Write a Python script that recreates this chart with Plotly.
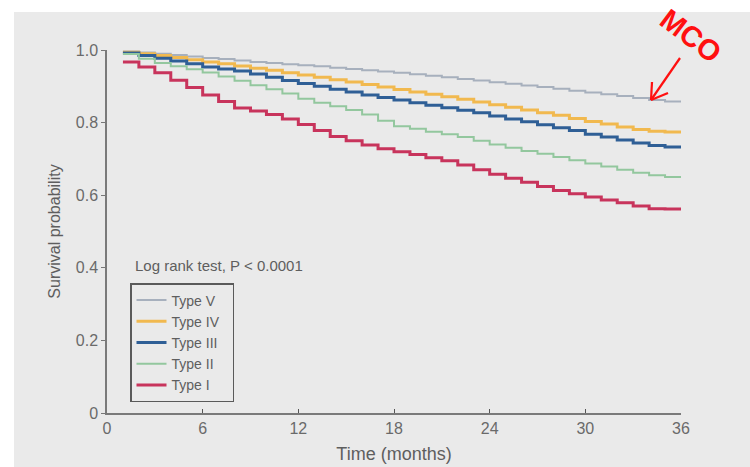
import plotly.graph_objects as go

# Follow-up time (months) at which each step of the Kaplan-Meier curves is drawn
months = list(range(1, 37))

type_v = [0.996, 0.993, 0.990, 0.986, 0.982, 0.978, 0.975, 0.971, 0.967, 0.964,
          0.961, 0.958, 0.955, 0.951, 0.948, 0.944, 0.941, 0.937, 0.933, 0.929,
          0.925, 0.920, 0.916, 0.911, 0.907, 0.902, 0.898, 0.893, 0.888, 0.883,
          0.878, 0.873, 0.868, 0.862, 0.858, 0.857]
type_iv = [0.994, 0.990, 0.985, 0.979, 0.973, 0.967, 0.962, 0.956, 0.950, 0.944,
           0.937, 0.931, 0.925, 0.918, 0.912, 0.905, 0.898, 0.891, 0.884, 0.878,
           0.871, 0.864, 0.857, 0.849, 0.842, 0.835, 0.827, 0.820, 0.811, 0.803,
           0.796, 0.788, 0.781, 0.776, 0.774, 0.774]
type_iii = [0.992, 0.985, 0.977, 0.970, 0.962, 0.953, 0.948, 0.942, 0.934, 0.925,
            0.916, 0.908, 0.900, 0.892, 0.884, 0.876, 0.869, 0.862, 0.855, 0.848,
            0.841, 0.834, 0.827, 0.818, 0.810, 0.802, 0.794, 0.786, 0.778, 0.768,
            0.760, 0.752, 0.744, 0.737, 0.733, 0.733]
type_ii = [0.989, 0.976, 0.964, 0.955, 0.947, 0.938, 0.927, 0.915, 0.903, 0.892,
           0.880, 0.866, 0.855, 0.845, 0.835, 0.822, 0.805, 0.790, 0.783, 0.775,
           0.768, 0.760, 0.750, 0.740, 0.731, 0.722, 0.714, 0.705, 0.696, 0.687,
           0.679, 0.670, 0.662, 0.655, 0.650, 0.650]
type_i = [0.967, 0.953, 0.937, 0.917, 0.897, 0.876, 0.858, 0.840, 0.832, 0.822,
          0.810, 0.795, 0.778, 0.762, 0.750, 0.738, 0.728, 0.720, 0.712, 0.703,
          0.695, 0.683, 0.670, 0.658, 0.647, 0.636, 0.624, 0.613, 0.604, 0.595,
          0.587, 0.579, 0.570, 0.563, 0.562, 0.562]

series = [
    ("Type V", type_v, "#a7b0bd", 2),
    ("Type IV", type_iv, "#f1b94f", 3),
    ("Type III", type_iii, "#2f5f96", 3),
    ("Type II", type_ii, "#93c79e", 2),
    ("Type I", type_i, "#c8345c", 3),
]

x_ticks = [0, 6, 12, 18, 24, 30, 36]
y_ticks = [0, 0.2, 0.4, 0.6, 0.8, 1.0]
y_tick_text = ["0", "0.2", "0.4", "0.6", "0.8", "1.0"]

FONT = "Liberation Sans, Arial, sans-serif"
BG = "#eaeaea"

fig = go.Figure()
for name, vals, color, width in series:
    fig.add_trace(go.Scatter(
        x=months, y=vals, name=name + "  ", mode="lines",
        line=dict(color=color, width=width, shape="hv"),
    ))

W, H = 750, 467
L, R, T, B = 107, 69, 50, 54
pw, ph = W - L - R, H - T - B


def px_to_paper(px, py):
    return (px - L) / pw, (H - B - py) / ph


# grey panel behind the whole chart
x0, y1 = px_to_paper(14, 12)
x1, y0 = px_to_paper(750, 467)

shapes = [dict(type="rect", xref="paper", yref="paper", x0=x0, y0=y0, x1=x1, y1=y1,
               fillcolor=BG, line=dict(width=0), layer="below")]

# red pointer arrow next to the MCO label
ax0, ay0 = px_to_paper(680, 58)
tx, ty = px_to_paper(651, 100)
la_x, la_y = px_to_paper(652, 82)
lb_x, lb_y = px_to_paper(668, 93)
for (sx, sy) in [(ax0, ay0), (la_x, la_y), (lb_x, lb_y)]:
    shapes.append(dict(type="line", xref="paper", yref="paper", x0=sx, y0=sy, x1=tx, y1=ty,
                       line=dict(color="#ff1010", width=2.2)))

mco_x, mco_y = px_to_paper(691, 36)
lr_x, lr_y = px_to_paper(133, 265)
lg_x, lg_y = px_to_paper(130, 283)

fig.update_layout(
    width=W, height=H,
    margin=dict(l=L, r=R, t=T, b=B, autoexpand=False),
    paper_bgcolor="white",
    plot_bgcolor="rgba(0,0,0,0)",
    font=dict(family=FONT, color="#5e5e5e", size=16),
    showlegend=True,
    legend=dict(
        x=lg_x, y=lg_y, xanchor="left", yanchor="top",
        bgcolor=BG, bordercolor="#5a5a5a", borderwidth=1.5,
        font=dict(size=14, color="#5e5e5e"),
        traceorder="normal", itemwidth=30, tracegroupgap=0,
    ),
    xaxis=dict(
        range=[0, 36], tickvals=x_ticks, showgrid=False, zeroline=False, automargin=False,
        showline=True, linecolor="#7a7a7a", linewidth=1.5,
        ticks="inside", ticklen=4, tickcolor="#555", tickwidth=1,
        tickfont=dict(size=16, color="#6a6a6a"),
        title=dict(text="Time (months)", font=dict(size=18, color="#5e5e5e"), standoff=11),
    ),
    yaxis=dict(
        range=[0, 1.0], tickvals=y_ticks, ticktext=y_tick_text, showgrid=False, zeroline=False,
        automargin=False,
        showline=True, linecolor="#7a7a7a", linewidth=1.5,
        ticks="outside", ticklen=4, tickcolor="#777", tickwidth=1,
        tickfont=dict(size=16, color="#6a6a6a"),
        title=dict(text="Survival probability", font=dict(size=16, color="#5e5e5e"), standoff=11),
    ),
    shapes=shapes,
    annotations=[
        dict(text="Log rank test, P < 0.0001", xref="paper", yref="paper",
             x=lr_x, y=lr_y, xanchor="left", yanchor="middle", showarrow=False,
             font=dict(size=15, color="#5e5e5e")),
        dict(text="<b>MCO</b>", xref="paper", yref="paper", x=mco_x, y=mco_y,
             xanchor="center", yanchor="middle", showarrow=False, textangle=37,
             font=dict(size=29, color="#ff1010", family=FONT)),
    ],
)

fig.write_html("out.html")
